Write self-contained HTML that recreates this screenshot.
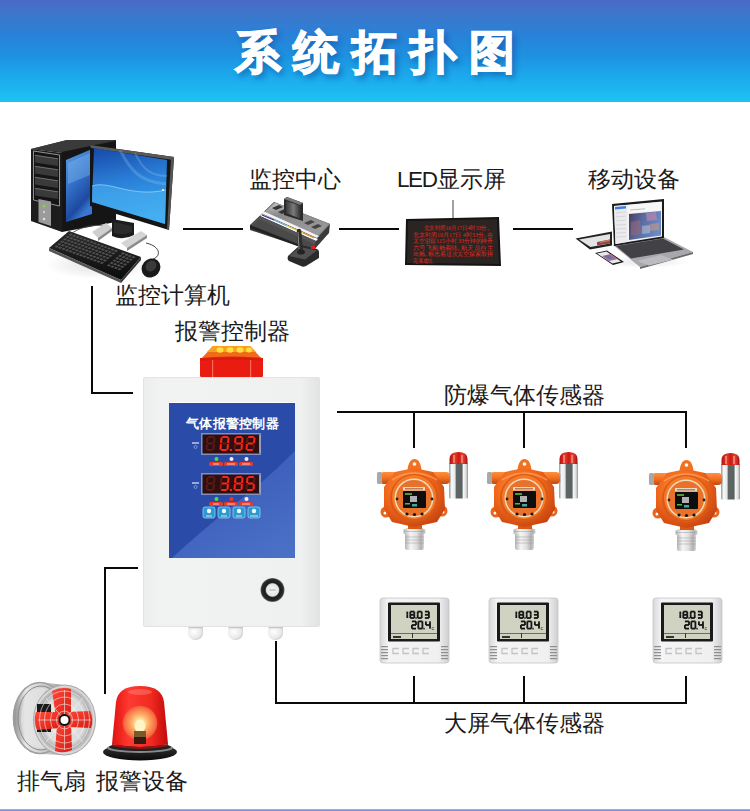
<!DOCTYPE html>
<html><head><meta charset="utf-8">
<style>
*{margin:0;padding:0;box-sizing:border-box}
html,body{width:750px;height:811px;overflow:hidden;background:#fff;font-family:"Liberation Sans",sans-serif;color:#222}
#hdr{position:absolute;left:0;top:0;width:750px;height:102px;background:linear-gradient(180deg,#4a6ac6 0px,#3c78cc 15px,#2882d8 35px,#1e90e0 55px,#1ca8ec 75px,#1ebcf2 95px,#18c6f2 102px)}
#title{position:absolute;left:6px;top:20px;width:750px;text-align:center;font-size:46px;font-weight:bold;color:#fff;letter-spacing:12.5px;-webkit-text-stroke:1.4px #fff;text-shadow:3px 4px 6px rgba(0,40,120,.45);line-height:64px}
.lbl{position:absolute;font-size:22.5px;line-height:26px;color:#1a1a1a;white-space:nowrap}
.ln{position:absolute;background:#0a0a0a}
#foot{position:absolute;left:0;top:809px;width:750px;height:2px;background:linear-gradient(180deg,#b8c2ec 0%,#8494da 50%,#8090d8 100%)}
svg{position:absolute;left:0;top:0}
</style></head><body>
<div id="hdr"><div id="title">系统拓扑图</div></div>

<div class="lbl" style="left:115px;top:283px">监控计算机</div>
<div class="lbl" style="left:249px;top:167px">监控中心</div>
<div class="lbl" style="left:397px;top:167px"><span style="letter-spacing:-1.4px">LED</span>显示屏</div>
<div class="lbl" style="left:588px;top:167px">移动设备</div>
<div class="lbl" style="left:175px;top:319px">报警控制器</div>
<div class="lbl" style="left:444px;top:383px">防爆气体传感器</div>
<div class="lbl" style="left:444px;top:711px">大屏气体传感器</div>
<div class="lbl" style="left:17px;top:769px;word-spacing:4px">排气扇 报警设备</div>

<div class="ln" style="left:183px;top:228px;width:60px;height:2px"></div>
<div class="ln" style="left:339px;top:228px;width:60px;height:2px"></div>
<div class="ln" style="left:513px;top:228px;width:60px;height:2px"></div>
<div class="ln" style="left:91px;top:286px;width:2px;height:108px"></div>
<div class="ln" style="left:91px;top:392px;width:42px;height:2px"></div>
<div class="ln" style="left:337px;top:411px;width:350px;height:2px"></div>
<div class="ln" style="left:413px;top:411px;width:2px;height:37px"></div>
<div class="ln" style="left:523px;top:411px;width:2px;height:37px"></div>
<div class="ln" style="left:685px;top:411px;width:2px;height:37px"></div>
<div class="ln" style="left:275px;top:641px;width:2px;height:63px"></div>
<div class="ln" style="left:275px;top:702px;width:412px;height:2px"></div>
<div class="ln" style="left:413px;top:676px;width:2px;height:27px"></div>
<div class="ln" style="left:523px;top:676px;width:2px;height:27px"></div>
<div class="ln" style="left:685px;top:676px;width:2px;height:27px"></div>
<div class="ln" style="left:104px;top:567px;width:2px;height:127px"></div>
<div class="ln" style="left:104px;top:567px;width:34px;height:2px"></div>

<svg width="750" height="811" viewBox="0 0 750 811">
<defs>
<linearGradient id="scr" x1="0" y1="0" x2="0.2" y2="1"><stop offset="0" stop-color="#1848a8"/><stop offset="0.5" stop-color="#2a80d8"/><stop offset="1" stop-color="#3aaaf0"/></linearGradient>
<linearGradient id="twin" x1="0" y1="0" x2="0.4" y2="1"><stop offset="0" stop-color="#5a9ee6"/><stop offset="0.5" stop-color="#3470c8"/><stop offset="0.85" stop-color="#1d4aa0"/><stop offset="1" stop-color="#3a78d0"/></linearGradient>
<linearGradient id="ctop" x1="0" y1="0" x2="0.3" y2="1"><stop offset="0" stop-color="#c8c8c8"/><stop offset="0.4" stop-color="#8a8a8a"/><stop offset="1" stop-color="#9a9a9a"/></linearGradient><linearGradient id="ccart" x1="0" y1="0" x2="1" y2="0"><stop offset="0" stop-color="#3a3a3a"/><stop offset="0.5" stop-color="#7a7a7a"/><stop offset="1" stop-color="#2a2a2a"/></linearGradient><linearGradient id="lphoto" x1="0" y1="0" x2="1" y2="0.3"><stop offset="0" stop-color="#4a3a58"/><stop offset="0.45" stop-color="#5a6aa0"/><stop offset="1" stop-color="#6a8ac8"/></linearGradient><linearGradient id="kb" x1="0" y1="0" x2="0" y2="1"><stop offset="0" stop-color="#2a2a2a"/><stop offset="1" stop-color="#0c0c0c"/></linearGradient>
<radialGradient id="shadow" cx="0.5" cy="0.5" r="0.5"><stop offset="0" stop-color="#000" stop-opacity=".25"/><stop offset="1" stop-color="#000" stop-opacity="0"/></radialGradient>
</defs>
<g id="computer">
<ellipse cx="100" cy="265" rx="55" ry="14" fill="url(#shadow)" opacity=".5"/>
<!-- tower top -->
<polygon points="31,149 67,140 116,140 116,146 62,153" fill="#2b2b2b"/>
<polygon points="31,149 67,140 116,140 62,152" fill="#3a3a3a"/>
<!-- tower side -->
<polygon points="62,152 116,141 116,222 62,232" fill="#151515"/>
<polygon points="66,160 92,149 92,214 66,222" fill="url(#twin)"/><polygon points="68,163 90,153 90,175 68,184" fill="#8cc4f4" opacity=".35"/>
<!-- tower front -->
<polygon points="31,149 62,153 62,232 31,221" fill="#1d1d1d"/>
<polygon points="33.5,151 59.5,155 59.5,206 33.5,200" fill="#151515" stroke="#a0a0a0" stroke-width=".9"/>
<polygon points="35,155 58,158.5 58,166 35,162.5" fill="#3a3a3a"/><line x1="35" y1="155.3" x2="58" y2="158.8" stroke="#8a8a8a" stroke-width=".7"/>
<polygon points="35,166 58,169.5 58,177 35,173.5" fill="#3a3a3a"/><line x1="35" y1="166.3" x2="58" y2="169.8" stroke="#8a8a8a" stroke-width=".7"/>
<polygon points="35,177 58,180.5 58,188 35,184.5" fill="#3a3a3a"/><line x1="35" y1="177.3" x2="58" y2="180.8" stroke="#8a8a8a" stroke-width=".7"/>
<polygon points="35,188 58,191.5 58,199 35,195.5" fill="#3a3a3a"/><line x1="35" y1="188.3" x2="58" y2="191.8" stroke="#8a8a8a" stroke-width=".7"/>
<polygon points="38.5,199 51,201.5 51,226 38.5,222" fill="#9a9a9a"/>
<circle cx="44" cy="206" r="1.8" fill="#7fd04a"/>
<circle cx="44" cy="212" r="1.2" fill="#ccc"/><circle cx="44" cy="219" r="1.3" fill="#ddd"/>
<!-- monitor -->
<path d="M112,219 L134,223 L134,235 Q123,241 112,236 Z" fill="#1c1c1c"/>
<path d="M114,222 L132,226 L132,232 Q123,236 114,233 Z" fill="#3a3a3a" opacity=".5"/>
<polygon points="90,145 174,157 169,230 90,206" fill="#151515"/>
<polygon points="90,145 174,157 173,160 91,148" fill="#5a5a5a"/>
<polygon points="171,158 174,157 169,230 167,229" fill="#555"/>
<polygon points="94,148 167,160 165,224 92,202" fill="url(#scr)"/>
<path d="M92,186 C110,180 130,198 166,190 L165,224 L92,202 Z" fill="#4ab0f0" opacity=".55"/>
<path d="M92,186 C110,180 130,198 166,190" stroke="#bfe6ff" stroke-width=".8" fill="none" opacity=".7"/>
<path d="M120,150 C130,170 140,182 166,184" stroke="#9fd0f8" stroke-width="3" fill="none" opacity=".25"/>
<path d="M135,153 C142,168 150,176 167,176" stroke="#9fd0f8" stroke-width="2" fill="none" opacity=".25"/>
<circle cx="163" cy="190" r="1" fill="#fff"/>
<!-- speakers -->
<path d="M68,236 C80,226 95,224 104,226" stroke="#444" stroke-width=".8" fill="none"/>
<polygon points="92,232 106,223 112,228 98,238" fill="#cfcfcf"/>
<polygon points="98,238 112,228 112,231 98,241" fill="#8a8a8a"/>
<polygon points="121,243 141,231 147,235 127,248" fill="#d4d4d4"/>
<polygon points="127,248 147,235 147,238 127,251" fill="#8a8a8a"/>
<!-- keyboard -->
<polygon points="49,248 69,231 141,257 121,280" fill="url(#kb)"/>
<polygon points="49,248 121,280 121,283 49,251" fill="#555"/>
<polygon points="121,280 141,257 141,260 121,283" fill="#333"/>
<g transform="matrix(72,26,-20,17,69,231)" fill="#505050"><rect x="0.040" y="0.080" width="0.035" height="0.087"/><rect x="0.088" y="0.080" width="0.035" height="0.087"/><rect x="0.137" y="0.080" width="0.035" height="0.087"/><rect x="0.185" y="0.080" width="0.035" height="0.087"/><rect x="0.234" y="0.080" width="0.035" height="0.087"/><rect x="0.282" y="0.080" width="0.035" height="0.087"/><rect x="0.331" y="0.080" width="0.035" height="0.087"/><rect x="0.379" y="0.080" width="0.035" height="0.087"/><rect x="0.427" y="0.080" width="0.035" height="0.087"/><rect x="0.476" y="0.080" width="0.035" height="0.087"/><rect x="0.524" y="0.080" width="0.035" height="0.087"/><rect x="0.573" y="0.080" width="0.035" height="0.087"/><rect x="0.621" y="0.080" width="0.035" height="0.087"/><rect x="0.669" y="0.080" width="0.035" height="0.087"/><rect x="0.766" y="0.080" width="0.035" height="0.087"/><rect x="0.815" y="0.080" width="0.035" height="0.087"/><rect x="0.863" y="0.080" width="0.035" height="0.087"/><rect x="0.912" y="0.080" width="0.035" height="0.087"/><rect x="0.040" y="0.220" width="0.035" height="0.087"/><rect x="0.088" y="0.220" width="0.035" height="0.087"/><rect x="0.137" y="0.220" width="0.035" height="0.087"/><rect x="0.185" y="0.220" width="0.035" height="0.087"/><rect x="0.234" y="0.220" width="0.035" height="0.087"/><rect x="0.282" y="0.220" width="0.035" height="0.087"/><rect x="0.331" y="0.220" width="0.035" height="0.087"/><rect x="0.379" y="0.220" width="0.035" height="0.087"/><rect x="0.427" y="0.220" width="0.035" height="0.087"/><rect x="0.476" y="0.220" width="0.035" height="0.087"/><rect x="0.524" y="0.220" width="0.035" height="0.087"/><rect x="0.573" y="0.220" width="0.035" height="0.087"/><rect x="0.621" y="0.220" width="0.035" height="0.087"/><rect x="0.669" y="0.220" width="0.035" height="0.087"/><rect x="0.766" y="0.220" width="0.035" height="0.087"/><rect x="0.815" y="0.220" width="0.035" height="0.087"/><rect x="0.863" y="0.220" width="0.035" height="0.087"/><rect x="0.912" y="0.220" width="0.035" height="0.087"/><rect x="0.040" y="0.360" width="0.035" height="0.087"/><rect x="0.088" y="0.360" width="0.035" height="0.087"/><rect x="0.137" y="0.360" width="0.035" height="0.087"/><rect x="0.185" y="0.360" width="0.035" height="0.087"/><rect x="0.234" y="0.360" width="0.035" height="0.087"/><rect x="0.282" y="0.360" width="0.035" height="0.087"/><rect x="0.331" y="0.360" width="0.035" height="0.087"/><rect x="0.379" y="0.360" width="0.035" height="0.087"/><rect x="0.427" y="0.360" width="0.035" height="0.087"/><rect x="0.476" y="0.360" width="0.035" height="0.087"/><rect x="0.524" y="0.360" width="0.035" height="0.087"/><rect x="0.573" y="0.360" width="0.035" height="0.087"/><rect x="0.621" y="0.360" width="0.035" height="0.087"/><rect x="0.669" y="0.360" width="0.035" height="0.087"/><rect x="0.766" y="0.360" width="0.035" height="0.087"/><rect x="0.815" y="0.360" width="0.035" height="0.087"/><rect x="0.863" y="0.360" width="0.035" height="0.087"/><rect x="0.912" y="0.360" width="0.035" height="0.087"/><rect x="0.040" y="0.500" width="0.035" height="0.087"/><rect x="0.088" y="0.500" width="0.035" height="0.087"/><rect x="0.137" y="0.500" width="0.035" height="0.087"/><rect x="0.185" y="0.500" width="0.035" height="0.087"/><rect x="0.234" y="0.500" width="0.035" height="0.087"/><rect x="0.282" y="0.500" width="0.035" height="0.087"/><rect x="0.331" y="0.500" width="0.035" height="0.087"/><rect x="0.379" y="0.500" width="0.035" height="0.087"/><rect x="0.427" y="0.500" width="0.035" height="0.087"/><rect x="0.476" y="0.500" width="0.035" height="0.087"/><rect x="0.524" y="0.500" width="0.035" height="0.087"/><rect x="0.573" y="0.500" width="0.035" height="0.087"/><rect x="0.621" y="0.500" width="0.035" height="0.087"/><rect x="0.669" y="0.500" width="0.035" height="0.087"/><rect x="0.766" y="0.500" width="0.035" height="0.087"/><rect x="0.815" y="0.500" width="0.035" height="0.087"/><rect x="0.863" y="0.500" width="0.035" height="0.087"/><rect x="0.912" y="0.500" width="0.035" height="0.087"/><rect x="0.040" y="0.640" width="0.035" height="0.087"/><rect x="0.088" y="0.640" width="0.035" height="0.087"/><rect x="0.137" y="0.640" width="0.035" height="0.087"/><rect x="0.185" y="0.640" width="0.035" height="0.087"/><rect x="0.234" y="0.640" width="0.035" height="0.087"/><rect x="0.282" y="0.640" width="0.035" height="0.087"/><rect x="0.331" y="0.640" width="0.035" height="0.087"/><rect x="0.379" y="0.640" width="0.035" height="0.087"/><rect x="0.427" y="0.640" width="0.035" height="0.087"/><rect x="0.476" y="0.640" width="0.035" height="0.087"/><rect x="0.524" y="0.640" width="0.035" height="0.087"/><rect x="0.573" y="0.640" width="0.035" height="0.087"/><rect x="0.621" y="0.640" width="0.035" height="0.087"/><rect x="0.669" y="0.640" width="0.035" height="0.087"/><rect x="0.766" y="0.640" width="0.035" height="0.087"/><rect x="0.815" y="0.640" width="0.035" height="0.087"/><rect x="0.863" y="0.640" width="0.035" height="0.087"/><rect x="0.912" y="0.640" width="0.035" height="0.087"/><rect x="0.040" y="0.780" width="0.035" height="0.087"/><rect x="0.088" y="0.780" width="0.035" height="0.087"/><rect x="0.137" y="0.780" width="0.035" height="0.087"/><rect x="0.185" y="0.780" width="0.035" height="0.087"/><rect x="0.234" y="0.780" width="0.035" height="0.087"/><rect x="0.282" y="0.780" width="0.035" height="0.087"/><rect x="0.331" y="0.780" width="0.035" height="0.087"/><rect x="0.379" y="0.780" width="0.035" height="0.087"/><rect x="0.427" y="0.780" width="0.035" height="0.087"/><rect x="0.476" y="0.780" width="0.035" height="0.087"/><rect x="0.524" y="0.780" width="0.035" height="0.087"/><rect x="0.573" y="0.780" width="0.035" height="0.087"/><rect x="0.621" y="0.780" width="0.035" height="0.087"/><rect x="0.669" y="0.780" width="0.035" height="0.087"/><rect x="0.766" y="0.780" width="0.035" height="0.087"/><rect x="0.815" y="0.780" width="0.035" height="0.087"/><rect x="0.863" y="0.780" width="0.035" height="0.087"/><rect x="0.912" y="0.780" width="0.035" height="0.087"/></g>
<!-- mouse -->
<path d="M146,243 C160,246 162,256 153,259" stroke="#333" stroke-width=".9" fill="none"/>
<ellipse cx="151" cy="268" rx="9" ry="10" transform="rotate(40 151 268)" fill="#1a1a1a"/>
<ellipse cx="151" cy="266" rx="5" ry="6" transform="rotate(40 151 266)" fill="#3a3a3a"/>
</g>

<g id="console">

<!-- body -->
<polygon points="250,225 274,202 330,224 329,233 313,251 250,230" fill="#3a3a3a"/>
<!-- top panel -->
<polygon points="262,214 274,202 330,224 318,237" fill="#8a8a8a"/>
<polygon points="264,213 275,203 328,224 318,235" fill="url(#ctop)"/>
<polygon points="272,208 279,205 283,207 276,210" fill="#333"/>
<polygon points="278,212 285,209 289,211 282,214" fill="#333"/>
<polygon points="304,223 311,220 315,222 308,225" fill="#444"/>
<polygon points="311,227 318,224 322,226 315,229" fill="#444"/>
<!-- white stripe with rainbow -->
<polygon points="261,213 263,211 319,236 317,238" fill="#f4f4f4"/>
<polygon points="260,216 262,214 318,239 316,241" fill="#fff"/>
<line x1="262" y1="215" x2="274" y2="220" stroke="#2a2f80" stroke-width="1.2"/>
<line x1="274" y1="220" x2="286" y2="225.5" stroke="#6aa0d8" stroke-width="1.2"/>
<line x1="286" y1="225.5" x2="303" y2="233" stroke="#d8c040" stroke-width="1.2"/>
<line x1="303" y1="233" x2="314" y2="238" stroke="#e88a20" stroke-width="1.2"/>
<!-- front face -->
<polygon points="251,225 260,216 316,241 313,250" fill="#555"/>
<polygon points="252,226 259,219 314,244 312,249" fill="#4a4a4a"/>
<polygon points="250,225 313,250 313,252 250,228" fill="#222"/>
<!-- cartridge -->
<polygon points="284,199 287,197 303,203 303,221 284,215" fill="#2b2b2b"/>
<polygon points="286,201 301,206 301,219 286,213" fill="url(#ccart)"/>
<polygon points="284,199 287,197 303,203 300,205" fill="#777"/>
<!-- joystick -->
<path d="M288,256 L299,246 Q301,245 303,245.5 L317,249 Q319,250 319,252 L319,258 L306,266 Q304,267 302,266.5 L289,261 Q287,260 288,256 Z" fill="#2a2a2a"/>
<path d="M289,256 L300,247 L317,250.5 L305,259.5 Z" fill="#505050"/>
<line x1="299" y1="231" x2="301" y2="252" stroke="#2e2e2e" stroke-width="4.5" stroke-linecap="round"/>
<line x1="298" y1="232" x2="299" y2="249" stroke="#8a8a8a" stroke-width="1"/>
<ellipse cx="301" cy="252" rx="4" ry="2.5" fill="#222"/>
<rect x="311" y="246" width="4" height="3" fill="#e02020"/>
</g>
<g id="led">
<line x1="453" y1="200" x2="453" y2="219" stroke="#444" stroke-width="1"/>
<polygon points="406,219 499,217 501,266 405,265" fill="#141414"/>
<polygon points="408,221 497,219 499,264 407,263" fill="#2a2422"/>
<g fill="#e42a20" font-size="6.2" font-family="Liberation Serif">
<text x="424" y="230" textLength="68" lengthAdjust="spacingAndGlyphs">北京时间16月17日4时33分。</text>
<text x="413" y="236.5" textLength="80" lengthAdjust="spacingAndGlyphs">北京时间10月17日 4时33分, 在</text>
<text x="413" y="243" textLength="80" lengthAdjust="spacingAndGlyphs">太空驻留115小时 33分钟的神舟</text>
<text x="413" y="249.5" textLength="80" lengthAdjust="spacingAndGlyphs">六号飞船舱着陆, 航天员自主</text>
<text x="413" y="256" textLength="80" lengthAdjust="spacingAndGlyphs">出舱, 标志着这次太空探索取得</text>
<text x="413" y="262.5" textLength="24" lengthAdjust="spacingAndGlyphs">完满成功。</text>
</g>
</g>
<g id="laptop">
<ellipse cx="645" cy="262" rx="45" ry="6" fill="url(#shadow)" opacity=".4"/>
<!-- tablet -->
<polygon points="575.5,238.5 612,231.5 612,245.5 590,249.5" fill="#222"/>
<polygon points="579,239.5 610,234 610,243.5 590.5,247" fill="#e4e4e6"/>
<polygon points="597,242 610,239.5 610,243.5 597,245.5" fill="#8a4a48"/><polygon points="600,241.5 610,239.5 610,241 600,243" fill="#d07050"/>
<!-- laptop base -->
<polygon points="613,245 664,237 693,252 640,267" fill="#a8a8ac"/>
<polygon points="616,246 663,238.5 684,249.5 631,258.5" fill="#424246"/>
<polygon points="640,267 693,252 693,254 640,269" fill="#6a6a6e"/>
<polygon points="637,261 661,255 673,259.5 649,265.5" fill="#bcbcc0"/>
<!-- laptop screen -->
<polygon points="612,204 664,199 664,238 614,246" fill="#1a1a1c"/>
<polygon points="614,206 662,201.5 662,236.5 615.5,244" fill="#f2f2f2"/>
<polygon points="614,206 627,205 627,242 615.5,244" fill="#ebebee"/>
<polygon points="615,207 626,206 626,208.5 615,209.5" fill="#3a7fe0"/>
<g stroke="#c8c8cc" stroke-width=".6"><line x1="616" y1="213" x2="626" y2="212"/><line x1="616" y1="217" x2="626" y2="216"/><line x1="616" y1="221" x2="626" y2="220"/><line x1="616" y1="225" x2="626" y2="224.5"/><line x1="616" y1="229" x2="626" y2="228.5"/><line x1="616" y1="233" x2="626" y2="232.5"/><line x1="616" y1="237" x2="626" y2="236.5"/></g>
<polygon points="628,205 661,202 661,210 628,212.5" fill="#f7f7f7"/>
<line x1="630" y1="210" x2="645" y2="208.8" stroke="#999" stroke-width=".6"/>
<polygon points="629,214 661,211 661,235.5 629,240" fill="url(#lphoto)"/>
<polygon points="631,222 640,220 641,234 631,236" fill="#9a6a78" opacity=".55"/>
<polygon points="646,213 656,212 657,220 647,221" fill="#c888a8" opacity=".6"/>
<polygon points="650,224 659,223 659,230 650,231" fill="#e0a070" opacity=".45"/>
<polygon points="642,226 650,225 650,233 642,234" fill="#f0f0f0" opacity=".35"/>
<!-- phone -->
<polygon points="595,253 607,250.5 624,262 613,265" fill="#1a1a1a"/>
<polygon points="597,253.5 606.5,251.5 621,261.5 612.5,263.5" fill="#e8e8ee"/>
<polygon points="602,256 611,254 618,259 609,261" fill="#a07090"/><polygon points="604,256 609,255 613,258 608,259" fill="#5070b0" opacity=".7"/>
</g>

<g id="controller">
<defs>
<linearGradient id="box" x1="0" y1="0" x2="1" y2="0"><stop offset="0" stop-color="#eceeee"/><stop offset="0.1" stop-color="#f1f2f2"/><stop offset="0.9" stop-color="#eff0f0"/><stop offset="1" stop-color="#e2e4e4"/></linearGradient>
<linearGradient id="lband" x1="0.2" y1="0" x2="0.8" y2="1"><stop offset="0" stop-color="#3658b6"/><stop offset="1" stop-color="#4a70c6"/></linearGradient><linearGradient id="bluep" x1="0" y1="0" x2="1" y2="1"><stop offset="0" stop-color="#2848a8"/><stop offset="1" stop-color="#2a50b4"/></linearGradient>
<linearGradient id="beacon" x1="0" y1="0" x2="1" y2="0"><stop offset="0" stop-color="#c81818"/><stop offset="0.35" stop-color="#f04040"/><stop offset="0.6" stop-color="#e42424"/><stop offset="1" stop-color="#b81010"/></linearGradient>
<linearGradient id="dome" x1="0" y1="0" x2="0" y2="1"><stop offset="0" stop-color="#ffd040"/><stop offset="0.6" stop-color="#ff9a1a"/><stop offset="1" stop-color="#f05010"/></linearGradient>
<radialGradient id="knob" cx="0.5" cy="0.5" r="0.5"><stop offset="0" stop-color="#f6f6f6"/><stop offset="0.52" stop-color="#e4e4e4"/><stop offset="0.58" stop-color="#1a1a1a"/><stop offset="0.9" stop-color="#2a2a2a"/><stop offset="1" stop-color="#777"/></radialGradient>
<radialGradient id="gland" cx="0.4" cy="0.4" r="0.7"><stop offset="0" stop-color="#ffffff"/><stop offset="0.7" stop-color="#e8e8e8"/><stop offset="1" stop-color="#bdbdbd"/></radialGradient>
</defs>
<!-- beacon -->
<path d="M213,346 L250,346 L262,359 L201,359 Z" fill="#f06a1a"/>
<path d="M213,346 L250,346 L256,352 L207,352 Z" fill="#f8a020"/>
<g fill="#ffe040"><ellipse cx="220" cy="350" rx="3.5" ry="2.8"/><ellipse cx="230" cy="350" rx="3.5" ry="2.8"/><ellipse cx="240" cy="350" rx="3.5" ry="2.8"/><ellipse cx="249" cy="350" rx="3" ry="2.5"/></g>
<path d="M200,358 Q231,355 263,358 L263,375 Q263,378 260,378 L203,378 Q200,378 200,375 Z" fill="#ea1c12"/>
<path d="M200,359 Q231,356 263,359 L263,361 Q231,358 200,361 Z" fill="#d81a10"/>
<rect x="212" y="360" width="1.2" height="17" fill="#ff8a80" opacity=".7"/>
<rect x="250" y="360" width="1.2" height="17" fill="#ff8a80" opacity=".7"/>
<!-- glands -->
<path d="M188,626 h15 v7 a7.5,7 0 0 1 -15,0 z" fill="url(#gland)"/><rect x="189" y="627" width="13" height="1.3" fill="#c8c8c8"/>
<path d="M228,626 h15 v7 a7.5,7 0 0 1 -15,0 z" fill="url(#gland)"/><rect x="229" y="627" width="13" height="1.3" fill="#c8c8c8"/>
<path d="M268,626 h15 v7 a7.5,7 0 0 1 -15,0 z" fill="url(#gland)"/><rect x="269" y="627" width="13" height="1.3" fill="#c8c8c8"/>
<!-- box -->
<rect x="143" y="377" width="177" height="250" rx="2" fill="#e2e4e4"/>
<rect x="144" y="378" width="175" height="248" rx="1.5" fill="url(#box)"/>
<!-- blue panel -->
<rect x="168" y="402" width="127" height="1" fill="#ffffff"/><rect x="169" y="403" width="126" height="155" fill="#2a4ca8"/>
<path d="M295,451 Q268,478 240,500 Q200,532 172,558 L295,558 Z" fill="url(#lband)"/>
<text x="232.5" y="428" text-anchor="middle" font-size="13" font-weight="bold" fill="#fff" letter-spacing="0.3">气体报警控制器</text>
<!-- display 1 -->
<rect x="201" y="433" width="60" height="22" fill="#8090c0"/>
<rect x="202.5" y="434.5" width="57" height="19" fill="#2e0e0e"/><rect x="259" y="435" width="1.5" height="18" fill="#c0c8e0" opacity=".6"/>
<g transform="translate(38.80,0) skewX(-5)"><rect x="207.6" y="436.0" width="5.8" height="2" rx=".6" fill="#5a1a16"/><rect x="213.0" y="437.2" width="2" height="5.8" rx=".6" fill="#5a1a16"/><rect x="213.0" y="444.0" width="2" height="5.8" rx=".6" fill="#5a1a16"/><rect x="207.6" y="449.0" width="5.8" height="2" rx=".6" fill="#5a1a16"/><rect x="206.0" y="444.0" width="2" height="5.8" rx=".6" fill="#5a1a16"/><rect x="206.0" y="437.2" width="2" height="5.8" rx=".6" fill="#5a1a16"/><rect x="207.6" y="442.5" width="5.8" height="2" rx=".6" fill="#5a1a16"/><rect x="221.6" y="436.0" width="5.8" height="2" rx=".6" fill="#ff2418"/><rect x="227.0" y="437.2" width="2" height="5.8" rx=".6" fill="#ff2418"/><rect x="227.0" y="444.0" width="2" height="5.8" rx=".6" fill="#ff2418"/><rect x="221.6" y="449.0" width="5.8" height="2" rx=".6" fill="#ff2418"/><rect x="220.0" y="444.0" width="2" height="5.8" rx=".6" fill="#ff2418"/><rect x="220.0" y="437.2" width="2" height="5.8" rx=".6" fill="#ff2418"/><rect x="221.6" y="442.5" width="5.8" height="2" rx=".6" fill="#5a1a16"/><rect x="235.6" y="436.0" width="5.8" height="2" rx=".6" fill="#ff2418"/><rect x="241.0" y="437.2" width="2" height="5.8" rx=".6" fill="#ff2418"/><rect x="241.0" y="444.0" width="2" height="5.8" rx=".6" fill="#ff2418"/><rect x="235.6" y="449.0" width="5.8" height="2" rx=".6" fill="#ff2418"/><rect x="234.0" y="444.0" width="2" height="5.8" rx=".6" fill="#5a1a16"/><rect x="234.0" y="437.2" width="2" height="5.8" rx=".6" fill="#ff2418"/><rect x="235.6" y="442.5" width="5.8" height="2" rx=".6" fill="#ff2418"/><rect x="247.6" y="436.0" width="5.8" height="2" rx=".6" fill="#ff2418"/><rect x="253.0" y="437.2" width="2" height="5.8" rx=".6" fill="#ff2418"/><rect x="253.0" y="444.0" width="2" height="5.8" rx=".6" fill="#5a1a16"/><rect x="247.6" y="449.0" width="5.8" height="2" rx=".6" fill="#ff2418"/><rect x="246.0" y="444.0" width="2" height="5.8" rx=".6" fill="#ff2418"/><rect x="246.0" y="437.2" width="2" height="5.8" rx=".6" fill="#5a1a16"/><rect x="247.6" y="442.5" width="5.8" height="2" rx=".6" fill="#ff2418"/><rect x="230.5" y="449" width="2" height="2" fill="#ff2418"/></g>
<circle cx="216.5" cy="459" r="2" fill="#50e040"/>
<circle cx="231.5" cy="459" r="2" fill="#f0f0f0"/>
<circle cx="246.5" cy="459" r="2" fill="#f0f0f0"/>
<rect x="209" y="462" width="14" height="4" rx="1.5" fill="#e83a2a"/>
<rect x="224" y="462" width="14" height="4" rx="1.5" fill="#e83a2a"/>
<rect x="239" y="462" width="14" height="4" rx="1.5" fill="#e83a2a"/>
<!-- display 2 -->
<rect x="201" y="473" width="60" height="22" fill="#8090c0"/>
<rect x="202.5" y="474.5" width="57" height="19" fill="#2e0e0e"/><rect x="259" y="475" width="1.5" height="18" fill="#c0c8e0" opacity=".6"/>
<g transform="translate(42.30,0) skewX(-5)"><rect x="207.6" y="476.0" width="5.8" height="2" rx=".6" fill="#5a1a16"/><rect x="213.0" y="477.2" width="2" height="5.8" rx=".6" fill="#5a1a16"/><rect x="213.0" y="484.0" width="2" height="5.8" rx=".6" fill="#5a1a16"/><rect x="207.6" y="489.0" width="5.8" height="2" rx=".6" fill="#5a1a16"/><rect x="206.0" y="484.0" width="2" height="5.8" rx=".6" fill="#5a1a16"/><rect x="206.0" y="477.2" width="2" height="5.8" rx=".6" fill="#5a1a16"/><rect x="207.6" y="482.5" width="5.8" height="2" rx=".6" fill="#5a1a16"/><rect x="221.6" y="476.0" width="5.8" height="2" rx=".6" fill="#ff2418"/><rect x="227.0" y="477.2" width="2" height="5.8" rx=".6" fill="#ff2418"/><rect x="227.0" y="484.0" width="2" height="5.8" rx=".6" fill="#ff2418"/><rect x="221.6" y="489.0" width="5.8" height="2" rx=".6" fill="#ff2418"/><rect x="220.0" y="484.0" width="2" height="5.8" rx=".6" fill="#5a1a16"/><rect x="220.0" y="477.2" width="2" height="5.8" rx=".6" fill="#5a1a16"/><rect x="221.6" y="482.5" width="5.8" height="2" rx=".6" fill="#ff2418"/><rect x="235.6" y="476.0" width="5.8" height="2" rx=".6" fill="#ff2418"/><rect x="241.0" y="477.2" width="2" height="5.8" rx=".6" fill="#ff2418"/><rect x="241.0" y="484.0" width="2" height="5.8" rx=".6" fill="#ff2418"/><rect x="235.6" y="489.0" width="5.8" height="2" rx=".6" fill="#ff2418"/><rect x="234.0" y="484.0" width="2" height="5.8" rx=".6" fill="#ff2418"/><rect x="234.0" y="477.2" width="2" height="5.8" rx=".6" fill="#ff2418"/><rect x="235.6" y="482.5" width="5.8" height="2" rx=".6" fill="#ff2418"/><rect x="247.6" y="476.0" width="5.8" height="2" rx=".6" fill="#ff2418"/><rect x="253.0" y="477.2" width="2" height="5.8" rx=".6" fill="#5a1a16"/><rect x="253.0" y="484.0" width="2" height="5.8" rx=".6" fill="#ff2418"/><rect x="247.6" y="489.0" width="5.8" height="2" rx=".6" fill="#ff2418"/><rect x="246.0" y="484.0" width="2" height="5.8" rx=".6" fill="#5a1a16"/><rect x="246.0" y="477.2" width="2" height="5.8" rx=".6" fill="#ff2418"/><rect x="247.6" y="482.5" width="5.8" height="2" rx=".6" fill="#ff2418"/><rect x="230.5" y="489" width="2" height="2" fill="#ff2418"/></g>
<rect x="192" y="442" width="7" height="2" fill="#c8d0f0" opacity=".7"/><circle cx="195.5" cy="447" r="1.5" fill="none" stroke="#c8d0f0" stroke-width=".5"/>
<rect x="192" y="482" width="7" height="2" fill="#c8d0f0" opacity=".7"/><circle cx="195.5" cy="487" r="1.5" fill="none" stroke="#c8d0f0" stroke-width=".5"/>
<circle cx="216.5" cy="499" r="2" fill="#50e040"/>
<circle cx="231.5" cy="499" r="2" fill="#ff3020"/>
<circle cx="246.5" cy="499" r="2" fill="#f0f0f0"/>
<rect x="209" y="502" width="14" height="4" rx="1.5" fill="#e83a2a"/>
<rect x="224" y="502" width="14" height="4" rx="1.5" fill="#e83a2a"/>
<rect x="239" y="502" width="14" height="4" rx="1.5" fill="#e83a2a"/>
<!-- buttons -->
<g fill="#2a9ad0" stroke="#8fd0f0" stroke-width=".8">
<rect x="203" y="507" width="12" height="11" rx="2"/>
<rect x="218" y="507" width="12" height="11" rx="2"/>
<rect x="233" y="507" width="12" height="11" rx="2"/>
<rect x="248" y="507" width="12" height="11" rx="2"/>
</g>
<g fill="#f4f4f4"><circle cx="209" cy="511" r="2.2"/><circle cx="224" cy="511" r="2.2"/><circle cx="239" cy="511" r="2.2"/><circle cx="254" cy="511" r="2.2"/></g>
<g fill="#ffffff" opacity=".75">
<rect x="213" y="463.5" width="6" height="1"/><rect x="227" y="463.5" width="8" height="1"/><rect x="242" y="463.5" width="8" height="1"/>
<rect x="213" y="503.5" width="6" height="1"/><rect x="227" y="503.5" width="8" height="1"/><rect x="242" y="503.5" width="8" height="1"/>
<rect x="206" y="515.5" width="6" height="1"/><rect x="221" y="515.5" width="6" height="1"/><rect x="236" y="515.5" width="6" height="1"/><rect x="250" y="515.5" width="8" height="1"/>
</g>
<!-- knob -->
<circle cx="272.5" cy="590" r="12" fill="url(#knob)"/><circle cx="272.5" cy="590" r="6.6" fill="none" stroke="#bbb" stroke-width=".6"/><rect x="269.5" y="589.5" width="6" height="1" fill="#777" opacity=".6"/>
</g>

<defs>
<radialGradient id="orb" cx="0.4" cy="0.35" r="0.7"><stop offset="0" stop-color="#ff9040"/><stop offset="0.55" stop-color="#f0661a"/><stop offset="1" stop-color="#c84410"/></radialGradient>
<linearGradient id="silv" x1="0" y1="0" x2="1" y2="0"><stop offset="0" stop-color="#9a9a9a"/><stop offset="0.3" stop-color="#f4f4f4"/><stop offset="0.55" stop-color="#c8c8c8"/><stop offset="0.8" stop-color="#8a8a8a"/><stop offset="1" stop-color="#d0d0d0"/></linearGradient>
<linearGradient id="silvh" x1="0" y1="0" x2="1" y2="0"><stop offset="0" stop-color="#b4b4b4"/><stop offset="0.3" stop-color="#f6f6f6"/><stop offset="0.6" stop-color="#e0e0e0"/><stop offset="0.85" stop-color="#b0b0b0"/><stop offset="1" stop-color="#d8d8d8"/></linearGradient><linearGradient id="armg" x1="0" y1="0" x2="0" y2="1"><stop offset="0" stop-color="#ff9040"/><stop offset="0.5" stop-color="#f07020"/><stop offset="1" stop-color="#c04a10"/></linearGradient>
<linearGradient id="redd" x1="0" y1="0" x2="1" y2="0"><stop offset="0" stop-color="#b01010"/><stop offset="0.3" stop-color="#e83a2a"/><stop offset="0.5" stop-color="#c81a12"/><stop offset="0.75" stop-color="#e84030"/><stop offset="1" stop-color="#a01010"/></linearGradient><linearGradient id="lampg" x1="0" y1="0" x2="1" y2="0"><stop offset="0" stop-color="#909898"/><stop offset="0.14" stop-color="#fafafa"/><stop offset="0.32" stop-color="#e6e6e6"/><stop offset="0.38" stop-color="#5e6666"/><stop offset="0.68" stop-color="#5a6262"/><stop offset="0.76" stop-color="#f6f6f6"/><stop offset="0.9" stop-color="#dcdcdc"/><stop offset="1" stop-color="#8a8e8e"/></linearGradient>
</defs>
<g>
<!-- lamp -->
<rect x="449" y="463" width="19" height="35.5" rx="1" fill="url(#lampg)"/>
<path d="M449.5,464 v-5 q0,-7 9,-7 q9,0 9,7 v5 z" fill="url(#redd)"/><rect x="453" y="455" width="2" height="8" fill="#ffc0b0" opacity=".5"/><rect x="461" y="455" width="2" height="8" fill="#ffc0b0" opacity=".5"/>
<rect x="445" y="474" width="6" height="9" fill="#bbb"/>
<!-- bottom head -->
<rect x="405" y="528" width="19" height="22" rx="2.5" fill="url(#silvh)"/><rect x="403.5" y="529" width="22" height="5" rx="1" fill="url(#silvh)"/>
<g stroke="#9a9a9a" stroke-width=".5"><line x1="404" y1="531.5" x2="425" y2="531.5"/><line x1="405" y1="537" x2="424" y2="537"/><line x1="405" y1="540" x2="424" y2="540"/><line x1="405" y1="543" x2="424" y2="543"/></g>
<rect x="408" y="522" width="14" height="7" fill="#d85a18"/>
<!-- arms -->
<rect x="380" y="472" width="70" height="12" rx="4" fill="url(#armg)"/>
<rect x="377" y="472" width="5" height="12" rx="1.5" fill="#a8a8a8"/>
<!-- ear top -->
<path d="M407,474 Q408,459 414.5,459 Q421,459 422,474 Z" fill="#f07222"/>
<circle cx="414.5" cy="464" r="1.8" fill="#fff"/>
<!-- lower ears -->
<circle cx="386" cy="512" r="5.5" fill="#e8661c"/>
<circle cx="442" cy="511" r="5.5" fill="#e8661c"/>
<circle cx="385" cy="513" r="1.5" fill="#fff"/>
<circle cx="443" cy="512" r="1.5" fill="#fff"/>
<!-- housing -->
<path d="M414,468 L433,472 L444,487 L445,509 L437,522 L414,527 L392,522 L384,509 L384,487 L395,472 Z" fill="url(#orb)"/><path d="M392,480 Q414,466 437,480" stroke="#ffb070" stroke-width="1.5" fill="none" opacity=".6"/>
<circle cx="414" cy="498" r="24" fill="#d85a16"/>
<circle cx="414" cy="497" r="22" fill="#f47a28"/>
<circle cx="414" cy="498" r="19.5" fill="#f4dcc0"/>
<circle cx="414" cy="498" r="18" fill="#e8722a"/>
<rect x="403" y="487" width="22" height="3.5" fill="#f0d8c0"/>
<rect x="405" y="488" width="18" height="1.5" fill="#8a4a2a" opacity=".6"/>
<rect x="403" y="491" width="23" height="17" rx="1" fill="#0e0e0e"/>
<rect x="405" y="493" width="7" height="2" fill="#60c040" opacity=".8"/>
<rect x="410" y="496" width="7" height="6" fill="#e8e8e8" opacity=".75"/>
<rect x="405" y="503" width="5" height="1.5" fill="#40c040"/>
<rect x="412" y="504" width="5" height="2.5" fill="#40a8a0"/>
<g fill="#111"><circle cx="407" cy="514" r="1.6"/><circle cx="414.5" cy="514.5" r="1.6"/><circle cx="422" cy="514" r="1.6"/></g>
<circle cx="397" cy="499" r="1.4" fill="#222"/><circle cx="432" cy="499" r="1.4" fill="#222"/>
</g>
<g transform="translate(110,0)">
<!-- lamp -->
<rect x="449" y="463" width="19" height="35.5" rx="1" fill="url(#lampg)"/>
<path d="M449.5,464 v-5 q0,-7 9,-7 q9,0 9,7 v5 z" fill="url(#redd)"/><rect x="453" y="455" width="2" height="8" fill="#ffc0b0" opacity=".5"/><rect x="461" y="455" width="2" height="8" fill="#ffc0b0" opacity=".5"/>
<rect x="445" y="474" width="6" height="9" fill="#bbb"/>
<!-- bottom head -->
<rect x="405" y="528" width="19" height="22" rx="2.5" fill="url(#silvh)"/><rect x="403.5" y="529" width="22" height="5" rx="1" fill="url(#silvh)"/>
<g stroke="#9a9a9a" stroke-width=".5"><line x1="404" y1="531.5" x2="425" y2="531.5"/><line x1="405" y1="537" x2="424" y2="537"/><line x1="405" y1="540" x2="424" y2="540"/><line x1="405" y1="543" x2="424" y2="543"/></g>
<rect x="408" y="522" width="14" height="7" fill="#d85a18"/>
<!-- arms -->
<rect x="380" y="472" width="70" height="12" rx="4" fill="url(#armg)"/>
<rect x="377" y="472" width="5" height="12" rx="1.5" fill="#a8a8a8"/>
<!-- ear top -->
<path d="M407,474 Q408,459 414.5,459 Q421,459 422,474 Z" fill="#f07222"/>
<circle cx="414.5" cy="464" r="1.8" fill="#fff"/>
<!-- lower ears -->
<circle cx="386" cy="512" r="5.5" fill="#e8661c"/>
<circle cx="442" cy="511" r="5.5" fill="#e8661c"/>
<circle cx="385" cy="513" r="1.5" fill="#fff"/>
<circle cx="443" cy="512" r="1.5" fill="#fff"/>
<!-- housing -->
<path d="M414,468 L433,472 L444,487 L445,509 L437,522 L414,527 L392,522 L384,509 L384,487 L395,472 Z" fill="url(#orb)"/><path d="M392,480 Q414,466 437,480" stroke="#ffb070" stroke-width="1.5" fill="none" opacity=".6"/>
<circle cx="414" cy="498" r="24" fill="#d85a16"/>
<circle cx="414" cy="497" r="22" fill="#f47a28"/>
<circle cx="414" cy="498" r="19.5" fill="#f4dcc0"/>
<circle cx="414" cy="498" r="18" fill="#e8722a"/>
<rect x="403" y="487" width="22" height="3.5" fill="#f0d8c0"/>
<rect x="405" y="488" width="18" height="1.5" fill="#8a4a2a" opacity=".6"/>
<rect x="403" y="491" width="23" height="17" rx="1" fill="#0e0e0e"/>
<rect x="405" y="493" width="7" height="2" fill="#60c040" opacity=".8"/>
<rect x="410" y="496" width="7" height="6" fill="#e8e8e8" opacity=".75"/>
<rect x="405" y="503" width="5" height="1.5" fill="#40c040"/>
<rect x="412" y="504" width="5" height="2.5" fill="#40a8a0"/>
<g fill="#111"><circle cx="407" cy="514" r="1.6"/><circle cx="414.5" cy="514.5" r="1.6"/><circle cx="422" cy="514" r="1.6"/></g>
<circle cx="397" cy="499" r="1.4" fill="#222"/><circle cx="432" cy="499" r="1.4" fill="#222"/>
</g>
<g transform="translate(272,1)">
<!-- lamp -->
<rect x="449" y="463" width="19" height="35.5" rx="1" fill="url(#lampg)"/>
<path d="M449.5,464 v-5 q0,-7 9,-7 q9,0 9,7 v5 z" fill="url(#redd)"/><rect x="453" y="455" width="2" height="8" fill="#ffc0b0" opacity=".5"/><rect x="461" y="455" width="2" height="8" fill="#ffc0b0" opacity=".5"/>
<rect x="445" y="474" width="6" height="9" fill="#bbb"/>
<!-- bottom head -->
<rect x="405" y="528" width="19" height="22" rx="2.5" fill="url(#silvh)"/><rect x="403.5" y="529" width="22" height="5" rx="1" fill="url(#silvh)"/>
<g stroke="#9a9a9a" stroke-width=".5"><line x1="404" y1="531.5" x2="425" y2="531.5"/><line x1="405" y1="537" x2="424" y2="537"/><line x1="405" y1="540" x2="424" y2="540"/><line x1="405" y1="543" x2="424" y2="543"/></g>
<rect x="408" y="522" width="14" height="7" fill="#d85a18"/>
<!-- arms -->
<rect x="380" y="472" width="70" height="12" rx="4" fill="url(#armg)"/>
<rect x="377" y="472" width="5" height="12" rx="1.5" fill="#a8a8a8"/>
<!-- ear top -->
<path d="M407,474 Q408,459 414.5,459 Q421,459 422,474 Z" fill="#f07222"/>
<circle cx="414.5" cy="464" r="1.8" fill="#fff"/>
<!-- lower ears -->
<circle cx="386" cy="512" r="5.5" fill="#e8661c"/>
<circle cx="442" cy="511" r="5.5" fill="#e8661c"/>
<circle cx="385" cy="513" r="1.5" fill="#fff"/>
<circle cx="443" cy="512" r="1.5" fill="#fff"/>
<!-- housing -->
<path d="M414,468 L433,472 L444,487 L445,509 L437,522 L414,527 L392,522 L384,509 L384,487 L395,472 Z" fill="url(#orb)"/><path d="M392,480 Q414,466 437,480" stroke="#ffb070" stroke-width="1.5" fill="none" opacity=".6"/>
<circle cx="414" cy="498" r="24" fill="#d85a16"/>
<circle cx="414" cy="497" r="22" fill="#f47a28"/>
<circle cx="414" cy="498" r="19.5" fill="#f4dcc0"/>
<circle cx="414" cy="498" r="18" fill="#e8722a"/>
<rect x="403" y="487" width="22" height="3.5" fill="#f0d8c0"/>
<rect x="405" y="488" width="18" height="1.5" fill="#8a4a2a" opacity=".6"/>
<rect x="403" y="491" width="23" height="17" rx="1" fill="#0e0e0e"/>
<rect x="405" y="493" width="7" height="2" fill="#60c040" opacity=".8"/>
<rect x="410" y="496" width="7" height="6" fill="#e8e8e8" opacity=".75"/>
<rect x="405" y="503" width="5" height="1.5" fill="#40c040"/>
<rect x="412" y="504" width="5" height="2.5" fill="#40a8a0"/>
<g fill="#111"><circle cx="407" cy="514" r="1.6"/><circle cx="414.5" cy="514.5" r="1.6"/><circle cx="422" cy="514" r="1.6"/></g>
<circle cx="397" cy="499" r="1.4" fill="#222"/><circle cx="432" cy="499" r="1.4" fill="#222"/>
</g>

<defs>
<linearGradient id="tbody" x1="0" y1="0" x2="1" y2="0"><stop offset="0" stop-color="#d8d8da"/><stop offset="0.12" stop-color="#f4f4f5"/><stop offset="0.85" stop-color="#f0f0f1"/><stop offset="1" stop-color="#cfcfd1"/></linearGradient>
</defs>
<g>
<rect x="380" y="598" width="69" height="65" rx="3" fill="url(#tbody)"/>
<rect x="380" y="598" width="69" height="65" rx="3" fill="none" stroke="#c4c4c6" stroke-width=".8"/>
<rect x="388" y="602.5" width="52" height="39" rx="1" fill="#1a1a1a"/>
<rect x="391" y="605" width="46" height="34" fill="#d0d2c2"/>

<g fill="#151515"><rect x="406.40" y="611.60" width="1.80" height="3.20"/><rect x="406.40" y="614.80" width="1.80" height="3.20"/><rect x="410.30" y="610.70" width="4.00" height="1.80"/><rect x="413.40" y="611.60" width="1.80" height="3.20"/><rect x="413.40" y="614.80" width="1.80" height="3.20"/><rect x="410.30" y="617.10" width="4.00" height="1.80"/><rect x="409.40" y="614.80" width="1.80" height="3.20"/><rect x="409.40" y="611.60" width="1.80" height="3.20"/><rect x="410.30" y="613.90" width="4.00" height="1.80"/><rect x="415.4" y="617.30" width="1.3" height="1.6"/><rect x="417.70" y="610.70" width="4.00" height="1.80"/><rect x="420.80" y="611.60" width="1.80" height="3.20"/><rect x="420.80" y="614.80" width="1.80" height="3.20"/><rect x="417.70" y="617.10" width="4.00" height="1.80"/><rect x="416.80" y="614.80" width="1.80" height="3.20"/><rect x="416.80" y="611.60" width="1.80" height="3.20"/><rect x="424.90" y="610.70" width="4.00" height="1.80"/><rect x="428.00" y="611.60" width="1.80" height="3.20"/><rect x="428.00" y="614.80" width="1.80" height="3.20"/><rect x="424.90" y="617.10" width="4.00" height="1.80"/><rect x="424.90" y="613.90" width="4.00" height="1.80"/><rect x="411.90" y="620.50" width="4.10" height="1.80"/><rect x="415.10" y="621.40" width="1.80" height="3.60"/><rect x="411.90" y="627.70" width="4.10" height="1.80"/><rect x="411.00" y="625.00" width="1.80" height="3.60"/><rect x="411.90" y="624.10" width="4.10" height="1.80"/><rect x="418.30" y="620.50" width="4.10" height="1.80"/><rect x="421.50" y="621.40" width="1.80" height="3.60"/><rect x="421.50" y="625.00" width="1.80" height="3.60"/><rect x="418.30" y="627.70" width="4.10" height="1.80"/><rect x="417.40" y="625.00" width="1.80" height="3.60"/><rect x="417.40" y="621.40" width="1.80" height="3.60"/><rect x="423.4" y="627.90" width="1.3" height="1.6"/><rect x="429.10" y="621.40" width="1.80" height="3.60"/><rect x="429.10" y="625.00" width="1.80" height="3.60"/><rect x="425.00" y="621.40" width="1.80" height="3.60"/><rect x="425.90" y="624.10" width="4.10" height="1.80"/></g>
<text x="431.6" y="629.8" font-family="Liberation Sans" font-size="5" fill="#222">c</text>
<rect x="391" y="633" width="46" height="1" fill="#6a6e60"/>
<rect x="393" y="636" width="8" height="2" fill="#333"/>
<rect x="412" y="633" width="1" height="5" fill="#333"/>
<g fill="none" stroke="#c4c4c6" stroke-width="1.3">
<path d="M399,648.5 h-6 v5 h6"/><path d="M409,648.5 h-6 v5 h6"/><path d="M419,648.5 h-6 v5 h6"/><path d="M429,648.5 h-6 v5 h6"/>
</g>
<g fill="#8e8e90"><rect x="381" y="646" width="7" height="1.2"/><rect x="381" y="649" width="7" height="1.2"/><rect x="381" y="652" width="7" height="1.2"/><rect x="381" y="655" width="7" height="1.2"/><rect x="381" y="658" width="7" height="1.2"/>
<rect x="441" y="646" width="7" height="1.2"/><rect x="441" y="649" width="7" height="1.2"/><rect x="441" y="652" width="7" height="1.2"/><rect x="441" y="655" width="7" height="1.2"/><rect x="441" y="658" width="7" height="1.2"/></g>
</g>
<g transform="translate(109,0)">
<rect x="380" y="598" width="69" height="65" rx="3" fill="url(#tbody)"/>
<rect x="380" y="598" width="69" height="65" rx="3" fill="none" stroke="#c4c4c6" stroke-width=".8"/>
<rect x="388" y="602.5" width="52" height="39" rx="1" fill="#1a1a1a"/>
<rect x="391" y="605" width="46" height="34" fill="#d0d2c2"/>

<g fill="#151515"><rect x="406.40" y="611.60" width="1.80" height="3.20"/><rect x="406.40" y="614.80" width="1.80" height="3.20"/><rect x="410.30" y="610.70" width="4.00" height="1.80"/><rect x="413.40" y="611.60" width="1.80" height="3.20"/><rect x="413.40" y="614.80" width="1.80" height="3.20"/><rect x="410.30" y="617.10" width="4.00" height="1.80"/><rect x="409.40" y="614.80" width="1.80" height="3.20"/><rect x="409.40" y="611.60" width="1.80" height="3.20"/><rect x="410.30" y="613.90" width="4.00" height="1.80"/><rect x="415.4" y="617.30" width="1.3" height="1.6"/><rect x="417.70" y="610.70" width="4.00" height="1.80"/><rect x="420.80" y="611.60" width="1.80" height="3.20"/><rect x="420.80" y="614.80" width="1.80" height="3.20"/><rect x="417.70" y="617.10" width="4.00" height="1.80"/><rect x="416.80" y="614.80" width="1.80" height="3.20"/><rect x="416.80" y="611.60" width="1.80" height="3.20"/><rect x="424.90" y="610.70" width="4.00" height="1.80"/><rect x="428.00" y="611.60" width="1.80" height="3.20"/><rect x="428.00" y="614.80" width="1.80" height="3.20"/><rect x="424.90" y="617.10" width="4.00" height="1.80"/><rect x="424.90" y="613.90" width="4.00" height="1.80"/><rect x="411.90" y="620.50" width="4.10" height="1.80"/><rect x="415.10" y="621.40" width="1.80" height="3.60"/><rect x="411.90" y="627.70" width="4.10" height="1.80"/><rect x="411.00" y="625.00" width="1.80" height="3.60"/><rect x="411.90" y="624.10" width="4.10" height="1.80"/><rect x="418.30" y="620.50" width="4.10" height="1.80"/><rect x="421.50" y="621.40" width="1.80" height="3.60"/><rect x="421.50" y="625.00" width="1.80" height="3.60"/><rect x="418.30" y="627.70" width="4.10" height="1.80"/><rect x="417.40" y="625.00" width="1.80" height="3.60"/><rect x="417.40" y="621.40" width="1.80" height="3.60"/><rect x="423.4" y="627.90" width="1.3" height="1.6"/><rect x="429.10" y="621.40" width="1.80" height="3.60"/><rect x="429.10" y="625.00" width="1.80" height="3.60"/><rect x="425.00" y="621.40" width="1.80" height="3.60"/><rect x="425.90" y="624.10" width="4.10" height="1.80"/></g>
<text x="431.6" y="629.8" font-family="Liberation Sans" font-size="5" fill="#222">c</text>
<rect x="391" y="633" width="46" height="1" fill="#6a6e60"/>
<rect x="393" y="636" width="8" height="2" fill="#333"/>
<rect x="412" y="633" width="1" height="5" fill="#333"/>
<g fill="none" stroke="#c4c4c6" stroke-width="1.3">
<path d="M399,648.5 h-6 v5 h6"/><path d="M409,648.5 h-6 v5 h6"/><path d="M419,648.5 h-6 v5 h6"/><path d="M429,648.5 h-6 v5 h6"/>
</g>
<g fill="#8e8e90"><rect x="381" y="646" width="7" height="1.2"/><rect x="381" y="649" width="7" height="1.2"/><rect x="381" y="652" width="7" height="1.2"/><rect x="381" y="655" width="7" height="1.2"/><rect x="381" y="658" width="7" height="1.2"/>
<rect x="441" y="646" width="7" height="1.2"/><rect x="441" y="649" width="7" height="1.2"/><rect x="441" y="652" width="7" height="1.2"/><rect x="441" y="655" width="7" height="1.2"/><rect x="441" y="658" width="7" height="1.2"/></g>
</g>
<g transform="translate(273,0)">
<rect x="380" y="598" width="69" height="65" rx="3" fill="url(#tbody)"/>
<rect x="380" y="598" width="69" height="65" rx="3" fill="none" stroke="#c4c4c6" stroke-width=".8"/>
<rect x="388" y="602.5" width="52" height="39" rx="1" fill="#1a1a1a"/>
<rect x="391" y="605" width="46" height="34" fill="#d0d2c2"/>

<g fill="#151515"><rect x="406.40" y="611.60" width="1.80" height="3.20"/><rect x="406.40" y="614.80" width="1.80" height="3.20"/><rect x="410.30" y="610.70" width="4.00" height="1.80"/><rect x="413.40" y="611.60" width="1.80" height="3.20"/><rect x="413.40" y="614.80" width="1.80" height="3.20"/><rect x="410.30" y="617.10" width="4.00" height="1.80"/><rect x="409.40" y="614.80" width="1.80" height="3.20"/><rect x="409.40" y="611.60" width="1.80" height="3.20"/><rect x="410.30" y="613.90" width="4.00" height="1.80"/><rect x="415.4" y="617.30" width="1.3" height="1.6"/><rect x="417.70" y="610.70" width="4.00" height="1.80"/><rect x="420.80" y="611.60" width="1.80" height="3.20"/><rect x="420.80" y="614.80" width="1.80" height="3.20"/><rect x="417.70" y="617.10" width="4.00" height="1.80"/><rect x="416.80" y="614.80" width="1.80" height="3.20"/><rect x="416.80" y="611.60" width="1.80" height="3.20"/><rect x="424.90" y="610.70" width="4.00" height="1.80"/><rect x="428.00" y="611.60" width="1.80" height="3.20"/><rect x="428.00" y="614.80" width="1.80" height="3.20"/><rect x="424.90" y="617.10" width="4.00" height="1.80"/><rect x="424.90" y="613.90" width="4.00" height="1.80"/><rect x="411.90" y="620.50" width="4.10" height="1.80"/><rect x="415.10" y="621.40" width="1.80" height="3.60"/><rect x="411.90" y="627.70" width="4.10" height="1.80"/><rect x="411.00" y="625.00" width="1.80" height="3.60"/><rect x="411.90" y="624.10" width="4.10" height="1.80"/><rect x="418.30" y="620.50" width="4.10" height="1.80"/><rect x="421.50" y="621.40" width="1.80" height="3.60"/><rect x="421.50" y="625.00" width="1.80" height="3.60"/><rect x="418.30" y="627.70" width="4.10" height="1.80"/><rect x="417.40" y="625.00" width="1.80" height="3.60"/><rect x="417.40" y="621.40" width="1.80" height="3.60"/><rect x="423.4" y="627.90" width="1.3" height="1.6"/><rect x="429.10" y="621.40" width="1.80" height="3.60"/><rect x="429.10" y="625.00" width="1.80" height="3.60"/><rect x="425.00" y="621.40" width="1.80" height="3.60"/><rect x="425.90" y="624.10" width="4.10" height="1.80"/></g>
<text x="431.6" y="629.8" font-family="Liberation Sans" font-size="5" fill="#222">c</text>
<rect x="391" y="633" width="46" height="1" fill="#6a6e60"/>
<rect x="393" y="636" width="8" height="2" fill="#333"/>
<rect x="412" y="633" width="1" height="5" fill="#333"/>
<g fill="none" stroke="#c4c4c6" stroke-width="1.3">
<path d="M399,648.5 h-6 v5 h6"/><path d="M409,648.5 h-6 v5 h6"/><path d="M419,648.5 h-6 v5 h6"/><path d="M429,648.5 h-6 v5 h6"/>
</g>
<g fill="#8e8e90"><rect x="381" y="646" width="7" height="1.2"/><rect x="381" y="649" width="7" height="1.2"/><rect x="381" y="652" width="7" height="1.2"/><rect x="381" y="655" width="7" height="1.2"/><rect x="381" y="658" width="7" height="1.2"/>
<rect x="441" y="646" width="7" height="1.2"/><rect x="441" y="649" width="7" height="1.2"/><rect x="441" y="652" width="7" height="1.2"/><rect x="441" y="655" width="7" height="1.2"/><rect x="441" y="658" width="7" height="1.2"/></g>
</g>

<g id="fan">
<defs>
<linearGradient id="fanrim" x1="0" y1="0" x2="1" y2="0"><stop offset="0" stop-color="#8a8a8a"/><stop offset="0.25" stop-color="#e8e8e8"/><stop offset="0.6" stop-color="#cfcfcf"/><stop offset="1" stop-color="#9a9a9a"/></linearGradient>
<radialGradient id="faninner" cx="0.5" cy="0.5" r="0.5"><stop offset="0" stop-color="#f0f0f0"/><stop offset="0.8" stop-color="#d8d8d8"/><stop offset="1" stop-color="#a8a8a8"/></radialGradient>
<linearGradient id="blade" x1="0" y1="0" x2="1" y2="1"><stop offset="0" stop-color="#ff4a3a"/><stop offset="1" stop-color="#d81a10"/></linearGradient>
</defs>
<!-- cylinder body -->
<path d="M40,682 L64,685 L64,755 L40,754 A27,36 0 0 1 40,682 Z" fill="url(#fanrim)"/>
<ellipse cx="40" cy="718" rx="26.5" ry="35.5" fill="none" stroke="#a0a0a0" stroke-width="1.6"/>
<ellipse cx="41" cy="718" rx="23" ry="32" fill="none" stroke="#8a8a8a" stroke-width="1"/>
<ellipse cx="42" cy="718" rx="21" ry="30" fill="#e4e4e4" opacity=".7"/>
<!-- front ring -->
<ellipse cx="64.5" cy="720" rx="31.5" ry="35.5" fill="#a8a8a8"/><ellipse cx="64.5" cy="720" rx="30.5" ry="34.5" fill="#d8d8d8"/>
<ellipse cx="64.5" cy="720" rx="28.5" ry="32.5" fill="#bdbdbd"/>
<ellipse cx="64.5" cy="720" rx="26.5" ry="30.5" fill="url(#faninner)"/>
<!-- motor -->
<path d="M37,704 h14 v28 h-14 z" fill="#1a1a1a"/>
<!-- blades -->
<g fill="url(#blade)">
<path d="M64,720 L56,717 L52,691 Q61,686 71,689 L71,716 Z"/>
<path d="M64,720 L67,712 L90,711 Q94,719 91,728 L69,727 Z"/>
<path d="M64,720 L71,724 L72,750 Q63,754 55,751 L57,725 Z"/>
<path d="M64,720 L60,728 L37,730 Q33,721 36,712 L58,712 Z"/>
</g>
<!-- grill -->
<g fill="none" stroke="#f4f4f4" stroke-width=".7" opacity=".85">
<ellipse cx="64.5" cy="720" rx="8" ry="9"/>
<ellipse cx="64.5" cy="720" rx="14" ry="16"/>
<ellipse cx="64.5" cy="720" rx="20" ry="23"/>
<ellipse cx="64.5" cy="720" rx="25" ry="29"/>
<line x1="64.5" y1="690" x2="64.5" y2="750"/><line x1="38" y1="720" x2="91" y2="720"/>
<line x1="46" y1="698" x2="83" y2="742"/><line x1="83" y1="698" x2="46" y2="742"/>
</g>
<circle cx="64.5" cy="720" r="6" fill="#111"/>
<circle cx="64.5" cy="720" r="4" fill="#fff"/>
</g>
<g id="alarm">
<defs>
<linearGradient id="domeg" x1="0" y1="0" x2="1" y2="0"><stop offset="0" stop-color="#e01010"/><stop offset="0.3" stop-color="#ff3a30"/><stop offset="0.7" stop-color="#f02a20"/><stop offset="1" stop-color="#c00a0a"/></linearGradient>
<radialGradient id="glow" cx="0.5" cy="0.5" r="0.5"><stop offset="0" stop-color="#fff8d0"/><stop offset="0.3" stop-color="#ffd488"/><stop offset="0.55" stop-color="#ffa060"/><stop offset="0.8" stop-color="#f87848"/><stop offset="0.92" stop-color="#f46040"/><stop offset="1" stop-color="#f04030" stop-opacity="0"/></radialGradient>
<linearGradient id="baseg" x1="0" y1="0" x2="0" y2="1"><stop offset="0" stop-color="#3a3a3a"/><stop offset="1" stop-color="#0a0a0a"/></linearGradient>
</defs>
<ellipse cx="140" cy="752" rx="37" ry="8.5" fill="url(#baseg)"/>
<ellipse cx="140" cy="748" rx="33" ry="5" fill="#8a8a8a"/>
<ellipse cx="140" cy="747" rx="31" ry="4" fill="#222"/>
<path d="M112,744 L116,702 Q118,686 140,686 Q162,686 164,702 L168,744 Q140,750 112,744 Z" fill="url(#domeg)"/>
<circle cx="140" cy="723" r="18" fill="url(#glow)"/>
<ellipse cx="140" cy="726" rx="5.5" ry="6.5" fill="#fff6c8"/>
<rect x="134" y="731" width="12" height="6" fill="#7a5a28"/>
<rect x="134" y="737" width="12" height="7" fill="#3a1a10"/>
<ellipse cx="140" cy="692" rx="12" ry="3" fill="#ff8a80" opacity=".45"/>
<path d="M112,744 Q140,750 168,744 L168,746 Q140,752 112,746 Z" fill="#a01010"/>
</g>

</svg>

<div id="foot"></div>
</body></html>
